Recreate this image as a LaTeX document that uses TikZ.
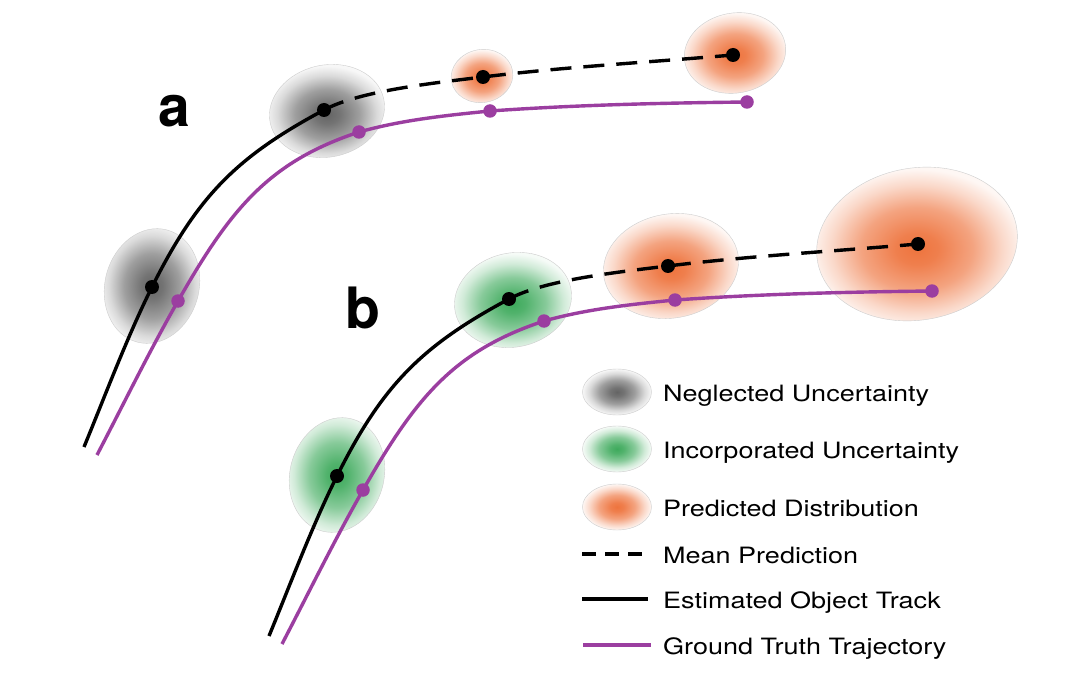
\documentclass[tikz,border=0pt]{standalone}
\usepackage{fontspec}
\usepackage{graphicx}
\setmainfont{TeX Gyre Heros}
\usetikzlibrary{positioning,shapes.geometric}

\definecolor{gtpurple}{RGB}{155,62,160}
\definecolor{blobgray}{RGB}{100,100,100}
\definecolor{blobgreen}{RGB}{62,170,92}
\definecolor{bloborange}{RGB}{238,116,62}
\definecolor{rimgray}{RGB}{205,205,205}

\pgfdeclareradialshading{grayblob}{\pgfpoint{0bp}{0bp}}{color(0bp)=(blobgray); color(5bp)=(blobgray!90!white); color(13bp)=(blobgray!62!white); color(20bp)=(blobgray!24!white); color(25bp)=(blobgray!5!white); color(50bp)=(white)}
\pgfdeclareradialshading{greenblob}{\pgfpoint{0bp}{0bp}}{color(0bp)=(blobgreen); color(5bp)=(blobgreen!90!white); color(13bp)=(blobgreen!62!white); color(20bp)=(blobgreen!24!white); color(25bp)=(blobgreen!5!white); color(50bp)=(white)}
\pgfdeclareradialshading{orangeblob}{\pgfpoint{0bp}{0bp}}{color(0bp)=(bloborange); color(5bp)=(bloborange!92!white); color(13bp)=(bloborange!66!white); color(20bp)=(bloborange!28!white); color(25bp)=(bloborange!6!white); color(50bp)=(white)}

\newcommand{\widetext}[1]{\scalebox{1.2}[1]{#1}}

% one pair of tracks, panel a coordinates
\newcommand{\tracks}{%
  \coordinate (s0) at (84,447);
  \coordinate (t0) at (97,455);
  \node[estdot] (e1) at (152,287) {};
  \node[estdot] (e2) at (324,110) {};
  \node[estdot] (e3) at (483,77) {};
  \node[estdot] (e4) at (733,55) {};
  \node[gtdot] (g1) at (178,301) {};
  \node[gtdot] (g2) at (359,132) {};
  \node[gtdot] (g3) at (490,111) {};
  \node[gtdot] (g4) at (747,102) {};
  \draw[track] (s0) .. controls (105,396) and (127.5,336) .. (e1.center)
    .. controls (197,197) and (236,157) .. (e2.center);
  \draw[track, meanline] (e2.center) .. controls (359,91) and (433.5,83) .. (e3.center)
    .. controls (563,67) and (653,62) .. (e4.center);
  \draw[gtline] (t0) .. controls (122.6,406) and (150.5,349) .. (g1.center)
    .. controls (230,210) and (268,162) .. (g2.center)
    .. controls (402,120) and (445,115.5) .. (g3.center)
    .. controls (575,105) and (660,103) .. (g4.center);
}

\begin{document}
\begin{tikzpicture}[
    x=1pt, y=-1pt,
    line cap=butt
]

\tikzset{
    blob/.style={shade, shading=#1, draw=rimgray, line width=0.4pt},
    legblob/.style={ellipse, shade, shading=#1, draw=rimgray, line width=0.4pt,
        minimum width=69pt, minimum height=46pt, inner sep=0pt},
    estdot/.style={circle, fill=black, inner sep=0pt, minimum size=14pt},
    gtdot/.style={circle, fill=gtpurple, inner sep=0pt, minimum size=13.5pt},
    track/.style={line width=3.4pt, black},
    meanline/.style={dash pattern=on 21pt off 12pt},
    gtline/.style={line width=3.4pt, gtpurple},
    legtext/.style={inner sep=0pt, anchor=base west, font=\fontsize{22.5}{27}\selectfont},
    panellabel/.style={inner sep=0pt, anchor=base west, font=\fontsize{57}{60}\selectfont\bfseries}
}

\fill[white] (0,0) rectangle (1074,679);
\useasboundingbox (0,0) rectangle (1074,679);

% panel a
\begin{scope}[name prefix=a-]
\path[blob=grayblob, rotate around={-15:(152,286)}] (152,286) ellipse [x radius=47, y radius=58];
\path[blob=grayblob, rotate around={12:(327,111)}] (327,111) ellipse [x radius=58, y radius=46];
\path[blob=orangeblob, rotate around={10:(482,76)}] (482,76) ellipse [x radius=31, y radius=26.5];
\path[blob=orangeblob, rotate around={10:(735,53)}] (735,53) ellipse [x radius=51, y radius=40];
\tracks
\node[panellabel] (la) at (158,127) {a};
\end{scope}

% panel b
\begin{scope}[name prefix=b-, shift={(185,189)}]
\path[blob=greenblob, rotate around={-15:(152,286)}] (152,286) ellipse [x radius=47, y radius=58];
\path[blob=greenblob, rotate around={12:(328,111)}] (328,111) ellipse [x radius=59, y radius=47];
\path[blob=orangeblob, rotate around={10:(486,77)}] (486,77) ellipse [x radius=68, y radius=52];
\path[blob=orangeblob, rotate around={10:(732,55)}] (732,55) ellipse [x radius=101, y radius=76];
\tracks
\node[panellabel] (lb) at (160,139) {b};
\end{scope}

% legend
\node[legblob=grayblob] (k1) at (617,392) {};
\node[legblob=greenblob] (k2) at (617,449) {};
\node[legblob=orangeblob] (k3) at (617,507) {};
\coordinate (k4) at (582,554);
\coordinate (k5) at (582,599);
\coordinate (k6) at (583,645);
\draw[track, dash pattern=on 14pt off 9pt] (k4) -- ++(60,0);
\draw[track] (k5) -- ++(66,0);
\draw[gtline] (k6) -- ++(68,0);

\node[legtext] (l1) at (663,401) {\widetext{Neglected Uncertainty}};
\node[legtext] (l2) at (663,458) {\widetext{Incorporated Uncertainty}};
\node[legtext] (l3) at (663,516.5) {\widetext{Predicted Distribution}};
\node[legtext] (l4) at (663,563) {\widetext{Mean Prediction}};
\node[legtext] (l5) at (663,608) {\widetext{Estimated Object Track}};
\node[legtext] (l6) at (663,654) {\widetext{Ground Truth Trajectory}};

\end{tikzpicture}
\end{document}
